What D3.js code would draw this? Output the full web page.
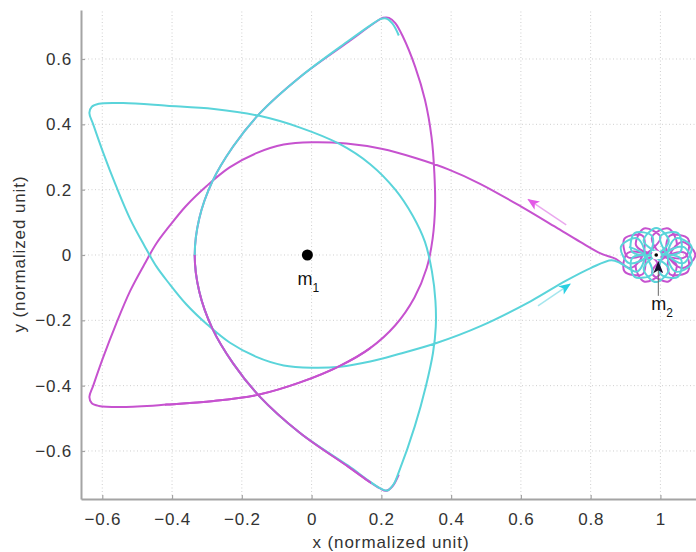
<!DOCTYPE html>
<html><head><meta charset="utf-8">
<script src="https://cdn.jsdelivr.net/npm/d3@7"></script>
<style>body{margin:0;background:#fff}svg{display:block}</style>
</head><body><svg id="c" width="696" height="552"></svg>
<script>
// ---------- data ----------
const xTicks = [-0.6,-0.4,-0.2,0,0.2,0.4,0.6,0.8,1];
const xTickLabels = ["\u22120.6","\u22120.4","\u22120.2","0","0.2","0.4","0.6","0.8","1"];
const yTicks = [-0.6,-0.4,-0.2,0,0.2,0.4,0.6];
const yTickLabels = ["\u22120.6","\u22120.4","\u22120.2","0","0.2","0.4","0.6"];
const bodies = [{name:"m",sub:"1",x:-0.012,y:0},{name:"m",sub:"2",x:0.988,y:0}];

// magenta trajectory: loops around m2, then leaves it
const magentaCluster = [
 [0.957,-0.003],[0.949,-0.059],[0.897,-0.050],[0.906,0.006],
 [0.976,-0.005],[1.000,-0.055],[0.953,-0.081],[0.930,-0.030],
 [1.000,-0.005],[1.046,-0.030],[1.023,-0.081],[0.976,-0.055],
 [1.019,-0.003],[1.071,0.006],[1.079,-0.050],[1.027,-0.059],
 [1.026,0.000],[1.063,0.040],[1.100,0.000],[1.063,-0.040],
 [1.019,0.003],[1.027,0.059],[1.079,0.050],[1.071,-0.006],
 [1.000,0.005],[0.976,0.055],[1.023,0.081],[1.046,0.030],
 [0.976,0.005],[0.930,0.030],[0.953,0.081],[1.000,0.055],
 [0.957,0.003],[0.906,-0.006],[0.897,0.050],[0.949,0.059],
 [0.950,0.000],[0.913,-0.040]
];
const magentaOrbit = [
 [0.872,-0.012],[0.830,0.004],[0.770,0.040],[0.700,0.085],[0.601,0.148],[0.483,0.218],
 [0.392,0.262],[0.300,0.296],[0.200,0.325],[0.100,0.341],[0.000,0.345],[-0.080,0.338],
 [-0.160,0.311],[-0.235,0.268],[-0.300,0.212],[-0.360,0.150],[-0.410,0.085],[-0.445,0.035],
 [-0.480,-0.030],[-0.520,-0.110],[-0.560,-0.210],[-0.598,-0.315],[-0.626,-0.400],[-0.637,-0.435],
 [-0.630,-0.454],[-0.610,-0.462],[-0.540,-0.465],[-0.415,-0.458],[-0.280,-0.447],[-0.150,-0.427],
 [-0.033,-0.390],[0.080,-0.340],[0.168,-0.285],[0.240,-0.215],[0.295,-0.130],[0.330,-0.040],
 [0.347,0.050],[0.354,0.150],[0.352,0.250],[0.344,0.360],[0.325,0.475],[0.297,0.576],
 [0.262,0.668],[0.240,0.710],[0.222,0.726],[0.205,0.726],[0.185,0.714],[0.105,0.652],
 [-0.033,0.545],[-0.150,0.432],[-0.225,0.332],[-0.285,0.224],[-0.322,0.112],[-0.335,0.000],
 [-0.322,-0.112],[-0.285,-0.224],[-0.225,-0.332],[-0.150,-0.432],[-0.033,-0.545],[0.105,-0.648],
 [0.160,-0.690],[0.195,-0.714],[0.214,-0.722],[0.232,-0.708],[0.250,-0.672]
];
// cyan trajectory: arrives at m2, then loops around it
const cyanOrbit = [
 [0.250,0.672],[0.232,0.708],[0.214,0.724],[0.197,0.722],[0.178,0.710],[0.105,0.655],
 [-0.033,0.545],[-0.150,0.432],[-0.225,0.332],[-0.285,0.224],[-0.322,0.112],[-0.335,0.000],
 [-0.322,-0.112],[-0.285,-0.224],[-0.225,-0.332],[-0.150,-0.432],[-0.033,-0.545],[0.105,-0.645],
 [0.165,-0.692],[0.200,-0.716],[0.218,-0.721],[0.235,-0.702],[0.250,-0.665],[0.296,-0.524],
 [0.328,-0.400],[0.348,-0.300],[0.356,-0.220],[0.355,-0.140],[0.345,-0.050],[0.325,0.040],
 [0.290,0.120],[0.240,0.200],[0.168,0.278],[0.080,0.340],[-0.033,0.390],[-0.150,0.426],
 [-0.280,0.447],[-0.415,0.457],[-0.540,0.465],[-0.610,0.463],[-0.630,0.454],[-0.637,0.435],
 [-0.626,0.400],[-0.598,0.315],[-0.560,0.210],[-0.520,0.110],[-0.480,0.030],[-0.445,-0.035],
 [-0.410,-0.085],[-0.360,-0.150],[-0.300,-0.212],[-0.235,-0.268],[-0.160,-0.311],[-0.080,-0.338],
 [0.000,-0.345],[0.082,-0.342],[0.168,-0.326],[0.250,-0.303],[0.354,-0.271],[0.486,-0.217],
 [0.629,-0.141],[0.727,-0.080],[0.800,-0.040],[0.860,-0.016]
];
const cyanCluster = [
 [0.887,-0.026],[0.933,-0.051],
 [0.956,0.001],[0.933,0.051],[0.887,0.026],[0.910,-0.025],
 [0.968,0.002],[0.976,0.058],[0.926,0.067],[0.918,0.011],
 [0.988,0.003],[1.024,0.043],[0.988,0.083],[0.952,0.043],
 [1.008,0.002],[1.058,0.011],[1.050,0.067],[1.000,0.058],
 [1.020,0.001],[1.066,-0.025],[1.089,0.026],[1.044,0.051],
 [1.020,-0.001],[1.044,-0.051],[1.089,-0.026],[1.066,0.025],
 [1.008,-0.002],[1.000,-0.058],[1.050,-0.067],[1.058,-0.011],
 [0.988,-0.003],[0.952,-0.043],[0.988,-0.083],[1.024,-0.043],
 [0.968,-0.002],[0.918,-0.011],[0.926,-0.067],[0.976,-0.058],
 [0.956,-0.001],[0.910,0.025]
];
// direction arrows [from, to]
const magentaArrow = [[0.730,0.092],[0.621,0.170]];
const cyanArrow = [[0.649,-0.156],[0.741,-0.089]];
// pointer from the m2 label to m2 [from, to]
const m2Pointer = [[0.994,-0.125],[0.994,-0.022]];

// ---------- drawing ----------
const svg = d3.select("#c");
const x = d3.scaleLinear().domain([-0.661,1.102]).range([81,696]);
const y = d3.scaleLinear().domain([-0.747,0.750]).range([499,10]);
const [x0,x1] = x.range(), [y0,y1] = y.range();
const font = "'Liberation Sans', Arial, Helvetica, sans-serif";
const axisGray = "#a4a4a4", textCol = "#333";
const MAG = "#c652cf", CYA = "#5ad4da";

// grid
const grid = svg.append("g").attr("stroke","#cfcfcf").attr("stroke-width",1).attr("stroke-dasharray","1,2.5");
grid.selectAll(".gx").data(xTicks).join("line").attr("x1",d=>x(d)).attr("x2",d=>x(d)).attr("y1",y0).attr("y2",y1);
grid.selectAll(".gy").data(yTicks).join("line").attr("y1",d=>y(d)).attr("y2",d=>y(d)).attr("x1",x0).attr("x2",x1);

// trajectories
const line = d3.line().x(d=>x(d[0])).y(d=>y(d[1])).curve(d3.curveCatmullRom.alpha(0.5));
const magentaPath = magentaCluster.concat(magentaOrbit);
const cyanPath = cyanOrbit.concat(cyanCluster);
const defs = svg.append("defs");
defs.append("clipPath").attr("id","lowleft").append("rect")
  .attr("x",x(-0.42)).attr("y",y(0)).attr("width",x(0.17)-x(-0.42)).attr("height",y0-y(0));
svg.append("path").attr("d",line(magentaPath)).attr("fill","none").attr("stroke",MAG).attr("stroke-width",2);
svg.append("path").attr("d",line(cyanPath)).attr("fill","none").attr("stroke",CYA).attr("stroke-width",2);
svg.append("path").attr("d",line(magentaPath)).attr("fill","none").attr("stroke",MAG).attr("stroke-width",2)
  .attr("clip-path","url(#lowleft)");

// arrows
function marker(id,col){
  defs.append("marker").attr("id",id).attr("viewBox","0 0 12 10").attr("refX",11).attr("refY",5)
    .attr("markerWidth",13).attr("markerHeight",10).attr("markerUnits","userSpaceOnUse").attr("orient","auto")
    .append("path").attr("d","M0,0L12,5L0,10L3,5Z").attr("fill",col);
}
marker("hm","#e25ae6"); marker("hc","#28d0e2"); marker("hk","#1a1030");
function arrow(a,col,mid,w){
  svg.append("line").attr("x1",x(a[0][0])).attr("y1",y(a[0][1])).attr("x2",x(a[1][0])).attr("y2",y(a[1][1]))
    .attr("stroke",col).attr("stroke-width",w).attr("marker-end",`url(#${mid})`);
}
arrow(magentaArrow,"#eaa8ee","hm",1.5);
arrow(cyanArrow,"#a5e6ee","hc",1.5);

// bodies
const m1 = bodies[0], m2 = bodies[1];
svg.append("circle").attr("cx",x(m1.x)).attr("cy",y(m1.y)).attr("r",5.5).attr("fill","#000");
svg.append("circle").attr("cx",x(m2.x)).attr("cy",y(m2.y)).attr("r",4.5).attr("fill","#fff");
svg.append("circle").attr("cx",x(m2.x)).attr("cy",y(m2.y)).attr("r",1.8).attr("fill","#000");
arrow(m2Pointer,"#666","hk",1);

function bodyLabel(b,dx,dy){
  const t = svg.append("text").attr("x",x(b.x)+dx).attr("y",y(b.y)+dy)
    .attr("font-family",font).attr("font-size",18).attr("fill","#111");
  t.append("tspan").text(b.name);
  t.append("tspan").attr("font-size",12).attr("dy",7).text(b.sub);
}
bodyLabel(m1,-10,30);
bodyLabel(m2,-5,55);

// axes
const ax = svg.append("g").attr("transform",`translate(0,${y0})`)
  .call(d3.axisBottom(x).tickValues(xTicks).tickFormat((d,i)=>xTickLabels[i]).tickSizeInner(-4).tickSizeOuter(0).tickPadding(14));
const ay = svg.append("g").attr("transform",`translate(${x0},0)`)
  .call(d3.axisLeft(y).tickValues(yTicks).tickFormat((d,i)=>yTickLabels[i]).tickSizeInner(-4).tickSizeOuter(0).tickPadding(9));
[ax,ay].forEach(g=>{
  g.select(".domain").attr("stroke",axisGray).attr("stroke-width",2);
  g.selectAll(".tick line").attr("stroke",axisGray).attr("stroke-width",1.2);
  g.selectAll(".tick text").attr("font-family",font).attr("font-size",17).attr("fill",textCol).attr("letter-spacing","0.8px");
});

// axis titles
svg.append("text").attr("x",391).attr("y",548).attr("text-anchor","middle")
  .attr("font-family",font).attr("font-size",17).attr("letter-spacing","0.9px").attr("fill",textCol)
  .text("x (normalized unit)");
svg.append("text").attr("transform","translate(25,254) rotate(-90)").attr("text-anchor","middle")
  .attr("font-family",font).attr("font-size",17).attr("letter-spacing","0.9px").attr("fill",textCol)
  .text("y (normalized unit)");
</script></body></html>
